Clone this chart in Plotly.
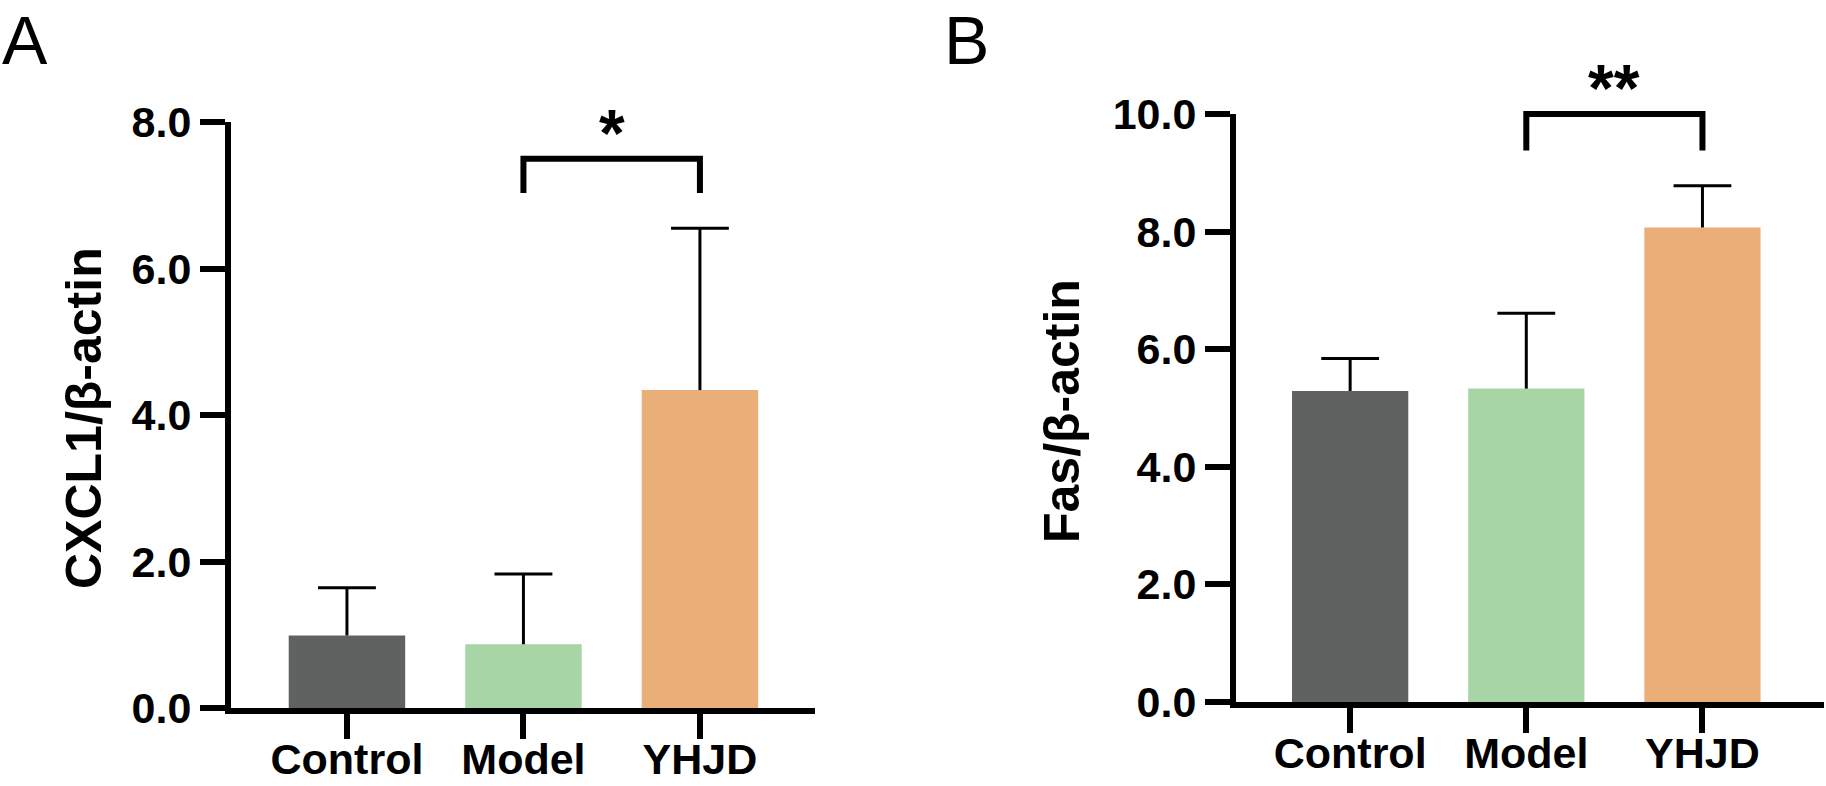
import plotly.graph_objects as go

# ---------------- data ----------------
groups = ["Control", "Model", "YHJD"]
cxcl1_mean = [0.99, 0.87, 4.34]
cxcl1_sd = [0.65, 0.96, 2.21]
fas_mean = [5.29, 5.33, 8.07]
fas_sd = [0.55, 1.28, 0.71]
cxcl1_ticks = [0, 2, 4, 6, 8]
fas_ticks = [0, 2, 4, 6, 8, 10]
cxcl1_sig = {"from": 1, "to": 2, "y": 7.5, "drop": 0.47, "label": "*"}
fas_sig = {"from": 1, "to": 2, "y": 10.0, "drop": 0.62, "label": "**"}

colors = ["#606261", "#A8D5A5", "#EAAF78"]
FONT = "Liberation Sans, Arial, sans-serif"
W, H = 1826, 786

fig = go.Figure()

panels = [
    dict(mean=cxcl1_mean, sd=cxcl1_sd, ticks=cxcl1_ticks, sig=cxcl1_sig,
         xa="x", ya="y", xdom=[231 / W, 815 / W], ydom=[1 - 708 / H, 1 - 122 / H],
         xr=[-0.657, 2.652], yr=[0, 8]),
    dict(mean=fas_mean, sd=fas_sd, ticks=fas_ticks, sig=fas_sig,
         xa="x2", ya="y2", xdom=[1236 / W, 1824 / W], ydom=[1 - 702 / H, 1 - 114 / H],
         xr=[-0.648, 2.69], yr=[0, 10]),
]

CAP = 0.164  # half width of error caps, in category units

for p in panels:
    xs = list(range(len(groups)))
    fig.add_trace(go.Bar(x=xs, y=p["mean"], width=0.66, marker=dict(color=colors, line=dict(width=0)),
                         xaxis=p["xa"], yaxis=p["ya"], showlegend=False))
    ex, ey = [], []
    for i, (m, s) in enumerate(zip(p["mean"], p["sd"])):
        ex += [i, i, None, i - CAP, i + CAP, None]
        ey += [m, m + s, None, m + s, m + s, None]
    fig.add_trace(go.Scatter(x=ex, y=ey, mode="lines", line=dict(color="black", width=3),
                             xaxis=p["xa"], yaxis=p["ya"], showlegend=False, hoverinfo="skip"))

    # significance bracket (domain refs so it is not clipped)
    sig = p["sig"]
    x0, x1 = p["xr"]
    y0, y1 = p["yr"]
    xd = lambda v: (v - x0) / (x1 - x0)
    yd = lambda v: (v - y0) / (y1 - y0)
    xref = p["xa"] + " domain"
    yref = p["ya"] + " domain"
    path = "M {},{} L {},{} L {},{} L {},{}".format(
        xd(sig["from"]), yd(sig["y"] - sig["drop"]),
        xd(sig["from"]), yd(sig["y"]),
        xd(sig["to"]), yd(sig["y"]),
        xd(sig["to"]), yd(sig["y"] - sig["drop"]))
    fig.add_shape(type="path", path=path, xref=xref, yref=yref,
                  line=dict(color="black", width=6))
    fig.add_annotation(x=xd((sig["from"] + sig["to"]) / 2), y=yd(sig["y"]), xref=xref, yref=yref,
                       text=sig["label"], showarrow=False, xanchor="center", yanchor="bottom", yshift=-13,
                       font=dict(family=FONT, size=66, color="black", weight="bold"))

axis_common = dict(showline=True, linecolor="black", linewidth=6, ticks="outside",
                   ticklen=25, tickwidth=6, tickcolor="black", showgrid=False, zeroline=False,
                   automargin=False,
                   tickfont=dict(family=FONT, size=43, color="black", weight="bold"))

for k, p in enumerate(panels):
    sx = "" if k == 0 else "2"
    fig.update_layout(**{
        "xaxis" + sx: dict(domain=p["xdom"], range=p["xr"], tickvals=list(range(len(groups))),
                           ticktext=groups, anchor="y" + sx, fixedrange=True,
                           ticklabelstandoff=-17, **axis_common),
        "yaxis" + sx: dict(domain=p["ydom"], range=p["yr"], tickvals=p["ticks"], tickformat=".1f",
                           anchor="x" + sx, fixedrange=True, **axis_common),
    })

# y-axis titles
fig.add_annotation(x=84 / W, y=1 - 418 / H, xref="paper", yref="paper", text="CXCL1/β-actin",
                   textangle=-90, showarrow=False, xanchor="center", yanchor="middle",
                   font=dict(family=FONT, size=50, color="black", weight="bold"))
fig.add_annotation(x=1062 / W, y=1 - 411 / H, xref="paper", yref="paper", text="Fas/β-actin",
                   textangle=-90, showarrow=False, xanchor="center", yanchor="middle",
                   font=dict(family=FONT, size=50, color="black", weight="bold"))
# panel letters
fig.add_annotation(x=0, y=1, xref="paper", yref="paper", text="A", xanchor="left",
                   yanchor="top", showarrow=False, font=dict(family=FONT, size=68, color="black"))
fig.add_annotation(x=942 / W, y=1, xref="paper", yref="paper", text="B", xanchor="left",
                   yanchor="top", showarrow=False, font=dict(family=FONT, size=68, color="black"))

fig.update_layout(template="none", width=W, height=H, margin=dict(l=0, r=0, t=0, b=0, pad=0),
                  paper_bgcolor="white", plot_bgcolor="white", bargap=0.34)

fig.write_html("out.html", config={"displayModeBar": False},
               post_script="document.body.style.margin='0';document.body.style.overflow='hidden';")
